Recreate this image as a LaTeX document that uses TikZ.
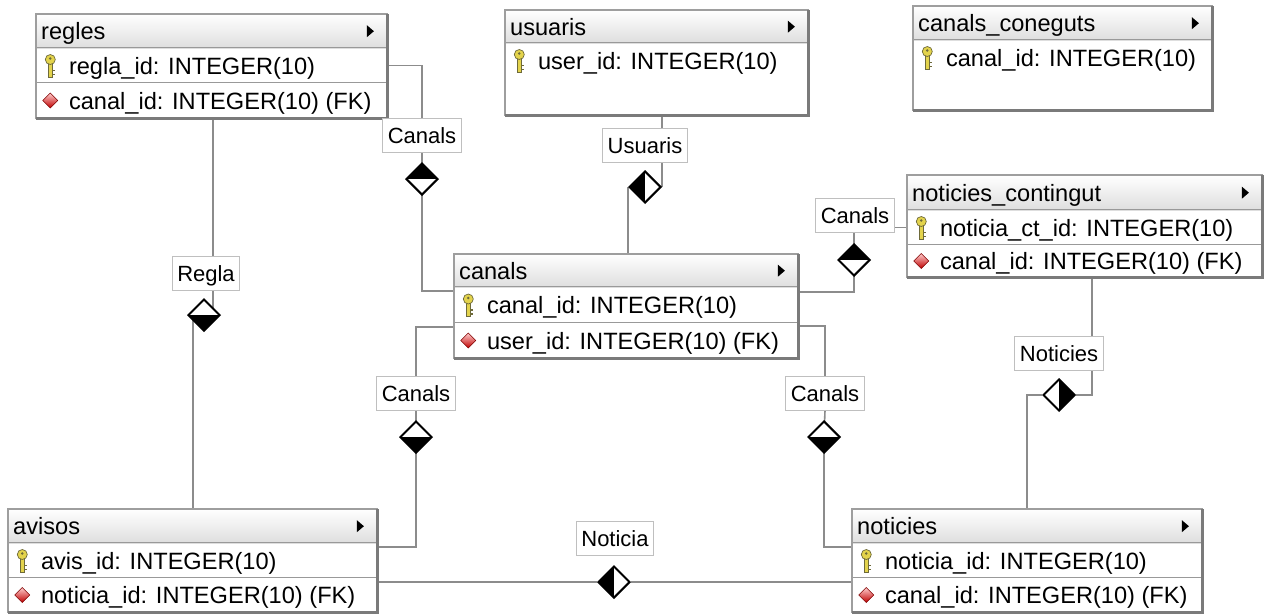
\documentclass[tikz,border=0pt]{standalone}
\usepackage{fontspec}
\setmainfont{Liberation Sans}
\usetikzlibrary{shapes.geometric,backgrounds,fit}

\newcommand{\tblfont}{\fontsize{23.6pt}{26pt}\selectfont}
\newcommand{\lblfont}{\fontsize{22pt}{25pt}\selectfont}

\definecolor{keyyel}{HTML}{E3D34C}
\definecolor{keyout}{HTML}{6E6A3A}

\tikzset{
  tblframe/.style={rectangle, inner sep=0pt, fill=white},
  tblhead/.style={rectangle, inner sep=0pt, top color=white, bottom color=black!13},
  tbltxt/.style={inner sep=0pt, anchor=west, font=\tblfont, text height=19pt, text depth=2pt},
  tblsep/.style={draw=black!40, line width=1.2pt},
  tblborder/.style={draw=black!38, line width=1.5pt},
  tblshadow/.style={draw=black!52, line width=3.5pt, line join=miter},
  lbl/.style={draw=black!25, line width=1pt, fill=white, font=\lblfont, inner xsep=5pt,
    inner ysep=0pt, minimum height=34pt, text height=17pt, text depth=1pt},
  rel/.style={diamond, draw=black, line width=2pt, fill=white, minimum width=32pt,
    minimum height=32pt, inner sep=0pt, aspect=1},
  halftop/.style={path picture={\fill[black] (path picture bounding box.north west) rectangle (path picture bounding box.east);}},
  halfbot/.style={path picture={\fill[black] (path picture bounding box.south west) rectangle (path picture bounding box.east);}},
  halfleft/.style={path picture={\fill[black] (path picture bounding box.north west) rectangle (path picture bounding box.south);}},
  halfright/.style={path picture={\fill[black] (path picture bounding box.north east) rectangle (path picture bounding box.south);}},
  conn/.style={draw=black!45, line width=1.6pt},
  pkey/.pic={
    \filldraw[fill=keyyel, draw=keyout, line width=0.7pt] (-2,-2) rectangle (2,11.5);
    \draw[keyout, line width=1.4pt] (2,5) -- (4.5,5) (2,9) -- (4.5,9);
    \filldraw[fill=keyyel, draw=keyout, line width=0.7pt] (0,-6) circle (5pt);
    \fill[keyout] (0,-7) circle (1.4pt);
  },
  pfk/.pic={
    \shade[top color=red!20!white, bottom color=red!75!black, draw=red!50!black, line width=0.5pt]
      (0,-7.5) -- (7.5,0) -- (0,7.5) -- (-7.5,0) -- cycle;
  },
  hdrtri/.pic={\fill[black] (-3.5,-6) -- (3.5,0) -- (-3.5,6) -- cycle;}
}

% \ertable{id}{x1}{y1}{x2}{y2}{title}{header bottom}{rows}
\newcommand{\ertable}[8]{%
  \node[tblframe, anchor=north west, minimum width={#4-#2}, minimum height={#5-#3}] (#1) at (#2,#3) {};
  \node[tblhead, anchor=north west, minimum width={#4-#2}, minimum height={#7-#3}] (#1-h) at (#2,#3) {};
  \node[tbltxt] (#1-t) at ([xshift=5pt]#1-h.west) {#6};
  \pic at ([xshift=-17pt]#1-h.east) {hdrtri};
  #8
  \draw[tblborder] (#1.north west) rectangle (#1.south east);
  \draw[tblshadow] (#1.north east) -- (#1.south east) -- (#1.south west);
}
% \errow{id}{n}{y1}{y2}{icon pic}{text}
\newcommand{\errow}[6]{%
  \node[fit={(#1.west |- 0,#3) (#1.east |- 0,#4)}, inner sep=0pt] (#1-#2) {};
  \pic at ([xshift=14.5pt]#1-#2.west) {#5};
  \node[tbltxt] (#1-#2-t) at ([xshift=33pt]#1-#2.west) {#6};
  \draw[tblsep] (#1-#2.north west) -- (#1-#2.north east);
}

\begin{document}
\begin{tikzpicture}[x=1pt, y=-1pt]
\useasboundingbox (0,0) rectangle (1269,614);

% tables
\ertable{regles}{36}{14}{387}{118}{regles}{48}{%
  \errow{regles}{1}{48}{83}{pkey}{regla\_id: INTEGER(10)}
  \errow{regles}{2}{83}{118}{pfk}{canal\_id: INTEGER(10) (FK)}}
\ertable{usuaris}{505}{10}{808}{115}{usuaris}{43}{%
  \errow{usuaris}{1}{43}{78}{pkey}{user\_id: INTEGER(10)}}
\ertable{cc}{913}{6}{1212}{110}{canals\_coneguts}{40}{%
  \errow{cc}{1}{40}{75}{pkey}{canal\_id: INTEGER(10)}}
\ertable{ntc}{907}{175}{1262}{277}{noticies\_contingut}{210}{%
  \errow{ntc}{1}{210}{245}{pkey}{noticia\_ct\_id: INTEGER(10)}
  \errow{ntc}{2}{245}{277}{pfk}{canal\_id: INTEGER(10) (FK)}}
\ertable{canals}{454}{254}{798}{358}{canals}{287}{%
  \errow{canals}{1}{287}{323}{pkey}{canal\_id: INTEGER(10)}
  \errow{canals}{2}{323}{358}{pfk}{user\_id: INTEGER(10) (FK)}}
\ertable{avisos}{8}{509}{377}{612}{avisos}{543}{%
  \errow{avisos}{1}{543}{578}{pkey}{avis\_id: INTEGER(10)}
  \errow{avisos}{2}{578}{612}{pfk}{noticia\_id: INTEGER(10) (FK)}}
\ertable{noticies}{852}{509}{1202}{612}{noticies}{543}{%
  \errow{noticies}{1}{543}{578}{pkey}{noticia\_id: INTEGER(10)}
  \errow{noticies}{2}{578}{612}{pfk}{canal\_id: INTEGER(10) (FK)}}

% relation labels
\node[lbl] (lA) at (422,135) {Canals};
\node[lbl] (lU) at (645,145) {Usuaris};
\node[lbl] (lB) at (855,215) {Canals};
\node[lbl] (lR) at (206,273) {Regla};
\node[lbl] (lC) at (416,393) {Canals};
\node[lbl] (lD) at (825,393) {Canals};
\node[lbl] (lN) at (1059,353) {Noticies};
\node[lbl] (lT) at (615,538) {Noticia};

% relation diamonds
\node[rel, halftop]   (dA) at (422,179) {};
\node[rel, halfleft]  (dU) at (645,187) {};
\node[rel, halftop]   (dB) at (854,260) {};
\node[rel, halfbot]   (dR) at (204,315) {};
\node[rel, halfbot]   (dC) at (416,437) {};
\node[rel, halfbot]   (dD) at (824,437) {};
\node[rel, halfright] (dN) at (1059,395) {};
\node[rel, halfleft]  (dT) at (614,582) {};

\begin{pgfonlayer}{background}
  \fill[white] (0,0) rectangle (1269,614);
  % regles -- canals
  \draw[conn] (regles-1.east) -| (lA.north);
  \draw[conn] (lA.south) -- (dA.center);
  \draw[conn] (dA.center) |- (canals.west |- 0,291);
  % usuaris -- canals
  \draw[conn] (usuaris.south -| dU.east) -- (lU.north -| dU.east);
  \draw[conn] (lU.south -| dU.east) -- (dU.east);
  \draw[conn] (dU.west) -- (canals.north -| dU.west);
  % canals -- noticies_contingut
  \draw[conn] (canals.east |- 0,292) -| (dB.center);
  \draw[conn] (dB.center) -- (lB.south -| dB.center);
  \draw[conn] (lB.east |- ntc-1.west) -- (ntc-1.west);
  % canals -- noticies
  \draw[conn] (canals.east |- 0,326) -| (lD.north);
  \draw[conn] (lD.south) -- (dD.center);
  \draw[conn] (dD.center) |- (noticies.west |- 0,547);
  % canals -- avisos
  \draw[conn] (canals.west |- 0,327) -| (lC.north);
  \draw[conn] (lC.south) -- (dC.center);
  \draw[conn] (dC.center) |- (avisos.east |- 0,547);
  % regles -- avisos
  \draw[conn] (regles.south -| 213,0) -- (lR.north -| 213,0);
  \draw[conn] (lR.south -| 213,0) -- (dR.center -| 213,0);
  \draw[conn] (dR.center -| 193,0) -- (avisos.north -| 193,0);
  % noticies_contingut -- noticies
  \draw[conn] (ntc.south -| 1092,0) -- (lN.north -| 1092,0);
  \draw[conn] (lN.south -| 1092,0) |- (dN.east);
  \draw[conn] (dN.west) -| (noticies.north -| 1027,0);
  % avisos -- noticies
  \draw[conn] (avisos.east |- dT.west) -- (dT.west);
  \draw[conn] (dT.east) -- (noticies.west |- dT.east);
\end{pgfonlayer}
\end{tikzpicture}
\end{document}
